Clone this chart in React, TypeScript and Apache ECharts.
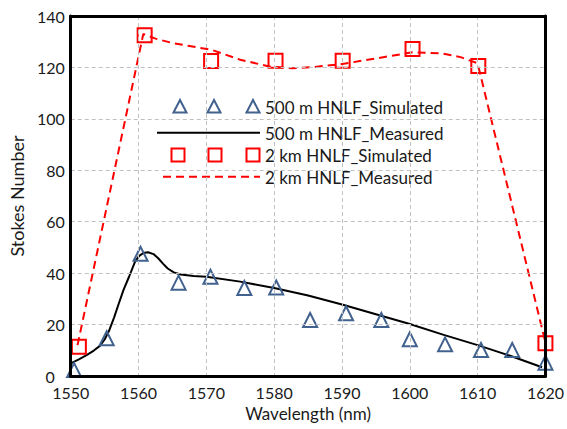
import React, { useEffect, useRef } from "react";
import * as echarts from "echarts";

// 500 m HNLF simulated (triangles)
const sim500Wavelength = [1550.5, 1555.3, 1560.3, 1565.9, 1570.6, 1575.6, 1580.3, 1585.3, 1590.6, 1595.8, 1600, 1605.2, 1610.5, 1615.1, 1620];
const sim500Stokes = [2.3, 14.7, 47.5, 36.3, 38.6, 34.2, 34.4, 21.8, 24.4, 21.8, 14.3, 12.3, 10.1, 10.1, 5.2];

// 500 m HNLF measured (black solid line)
const meas500Wavelength = [1550, 1551.2, 1552.4, 1553.4, 1554.3, 1555, 1555.7, 1556.4, 1557.1, 1557.8, 1558.6, 1559.5, 1560.1, 1560.7, 1561.4, 1562.2, 1562.9, 1563.6, 1564.3, 1565.2, 1566.2, 1568.1, 1570, 1575, 1580, 1585, 1590, 1595, 1600, 1605, 1610, 1615, 1619.5];
const meas500Stokes = [4.9, 6.5, 8.2, 9.9, 11.7, 14.2, 17.9, 22.8, 28.3, 33.6, 38.6, 44.6, 46.7, 47.8, 48.1, 47.4, 45.8, 43.7, 41.8, 40.3, 39.5, 38.9, 38.6, 36.7, 34.2, 31.3, 27.8, 24, 20.2, 16, 12, 7.7, 3.4];

// 2 km HNLF simulated (squares)
const sim2kmWavelength = [1551.2, 1560.9, 1570.7, 1580.2, 1590.1, 1600.4, 1610.1, 1620];
const sim2kmStokes = [11.4, 132.5, 122.5, 122.6, 122.6, 127.2, 120.6, 12.7];

// 2 km HNLF measured (red dashed line)
const meas2kmWavelength = [1551, 1560.7, 1562.5, 1565, 1570.8, 1575, 1579.4, 1582.7, 1586, 1589.7, 1595, 1600.4, 1604.7, 1607.5, 1610, 1620];
const meas2kmStokes = [12, 133, 131.2, 129.5, 126.8, 123, 120.3, 119.7, 120.2, 121.2, 123.5, 125.9, 125.5, 124, 121.6, 13];

const legendLabels = ["500 m HNLF_Simulated", "500 m HNLF_Measured", "2 km HNLF_Simulated", "2 km HNLF_Measured"];

const xMin = 1550, xMax = 1620, xStep = 10;
const yMin = 0, yMax = 140, yStep = 20;

const zip = (xs: number[], ys: number[]) => xs.map((x, i) => [x, ys[i]]);

const BLUE = "#41618E";
const RED = "#FF0000";
const FONT = "Lato, 'Open Sans', sans-serif";
const TXT = "#1a1a1a";

export default function App() {
  const ref = useRef<HTMLDivElement>(null);
  useEffect(() => {
    if (!ref.current) return;
    const chart = echarts.init(ref.current, null, { renderer: "svg" });
    const tri = (cx: number, cy: number) => ({
      type: "polygon",
      shape: { points: [[cx, cy - 6.5], [cx - 6.5, cy + 6], [cx + 6.5, cy + 6]] },
      style: { fill: "none", stroke: BLUE, lineWidth: 2 },
    });
    const sq = (cx: number, cy: number) => ({
      type: "rect",
      shape: { x: cx - 6.5, y: cy - 6.5, width: 13, height: 13 },
      style: { fill: "none", stroke: RED, lineWidth: 2 },
    });
    const txt = (y: number, t: string) => ({
      type: "text",
      style: { text: t, x: 265, y, font: `17px ${FONT}`, fill: TXT, verticalAlign: "middle" },
    });
    const frameAxisLine = { show: true, onZero: false, lineStyle: { color: "#000", width: 3 } };
    chart.setOption({
      animation: false,
      backgroundColor: "#fff",
      grid: { left: 58.5, right: 20.5, top: 16, bottom: 53, show: false, containLabel: false },
      xAxis: [
        {
          type: "value",
          min: xMin,
          max: xMax,
          interval: xStep,
          name: "Wavelength (nm)",
          nameLocation: "middle",
          nameGap: 26,
          nameTextStyle: { fontFamily: FONT, fontSize: 17, color: TXT },
          axisLine: frameAxisLine,
          axisTick: { show: false },
          axisLabel: { fontFamily: FONT, fontSize: 16, color: TXT, margin: 8, formatter: (v: number) => String(v) },
          splitLine: { show: true, lineStyle: { color: "#c0c0c0", type: [4, 3], width: 1 } },
          z: 5,
        },
        {
          type: "value",
          position: "top",
          min: xMin,
          max: xMax,
          interval: xStep,
          axisLine: frameAxisLine,
          axisTick: { show: false },
          axisLabel: { show: false },
          splitLine: { show: false },
          z: 5,
        },
      ],
      yAxis: [
        {
          type: "value",
          min: yMin,
          max: yMax,
          interval: yStep,
          name: "Stokes Number",
          nameLocation: "middle",
          nameGap: 34,
          nameTextStyle: { fontFamily: FONT, fontSize: 18, color: TXT },
          axisLine: frameAxisLine,
          axisTick: { show: false },
          axisLabel: {
            fontFamily: FONT,
            fontSize: 16,
            color: TXT,
            margin: 6,
            formatter: (v: number) => (v === 0 ? "0{p|}" : String(v)),
            rich: { p: { width: 10 } },
          },
          splitLine: { show: true, lineStyle: { color: "#c0c0c0", type: [4, 3], width: 1 } },
          z: 5,
        },
        {
          type: "value",
          position: "right",
          min: yMin,
          max: yMax,
          interval: yStep,
          axisLine: frameAxisLine,
          axisTick: { show: false },
          axisLabel: { show: false },
          splitLine: { show: false },
          z: 5,
        },
      ],
      series: [
        {
          name: legendLabels[1],
          type: "line",
          data: zip(meas500Wavelength, meas500Stokes),
          symbol: "none",
          lineStyle: { color: "#000", width: 2 },
          z: 3,
        },
        {
          name: legendLabels[3],
          type: "line",
          data: zip(meas2kmWavelength, meas2kmStokes),
          symbol: "none",
          lineStyle: { color: RED, width: 2, type: [8, 5] },
          z: 3,
        },
        {
          name: legendLabels[0],
          type: "scatter",
          data: zip(sim500Wavelength, sim500Stokes),
          symbol: "triangle",
          symbolSize: 14,
          itemStyle: { color: "rgba(0,0,0,0)", borderColor: BLUE, borderWidth: 2, opacity: 1 },
          z: 4,
        },
        {
          name: legendLabels[2],
          type: "scatter",
          data: zip(sim2kmWavelength, sim2kmStokes),
          symbol: "rect",
          symbolSize: 14,
          itemStyle: { color: "rgba(0,0,0,0)", borderColor: RED, borderWidth: 2, opacity: 1 },
          z: 4,
        },
      ],
      graphic: [
        tri(180, 106.5), tri(214, 106.5), tri(253, 106.5),
        txt(107, legendLabels[0]),
        { type: "line", shape: { x1: 157, y1: 132.7, x2: 260, y2: 132.7 }, style: { stroke: "#000", lineWidth: 2 } },
        txt(133, legendLabels[1]),
        sq(178, 155), sq(215, 155), sq(253, 155),
        txt(155, legendLabels[2]),
        { type: "line", shape: { x1: 163, y1: 176.7, x2: 260, y2: 176.7 }, style: { stroke: RED, lineWidth: 2, lineDash: [8, 5] } },
        txt(177, legendLabels[3]),
      ],
    });
    return () => chart.dispose();
  }, []);
  return <div ref={ref} style={{ position: "fixed", left: 0, top: 0, width: 567, height: 429 }} />;
}
